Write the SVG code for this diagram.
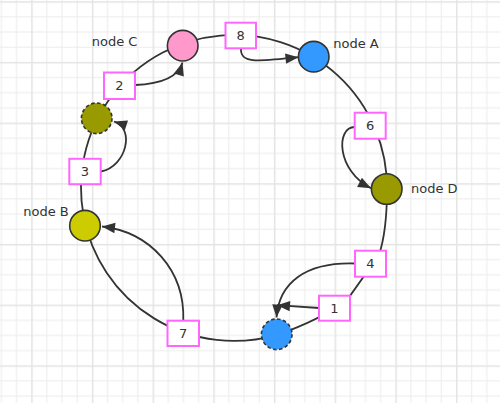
<svg xmlns="http://www.w3.org/2000/svg" width="500" height="403" viewBox="0 0 500 403">
<defs>
<pattern id="grid" patternUnits="userSpaceOnUse" x="31.2" y="1.2" width="60.68" height="60.68">
<rect x="0" y="0" width="60.68" height="60.68" fill="#ffffff"/>
<rect x="15.17" y="0" width="1" height="60.68" fill="#ececec"/>
<rect x="30.34" y="0" width="1" height="60.68" fill="#ececec"/>
<rect x="45.51" y="0" width="1" height="60.68" fill="#ececec"/>
<rect x="0" y="15.17" width="60.68" height="1" fill="#ececec"/>
<rect x="0" y="30.34" width="60.68" height="1" fill="#ececec"/>
<rect x="0" y="45.51" width="60.68" height="1" fill="#ececec"/>
<rect x="0" y="0" width="1.5" height="60.68" fill="#e4e4e4"/>
<rect x="0" y="0" width="60.68" height="1.5" fill="#e4e4e4"/>
</pattern>
<marker id="arr" markerUnits="userSpaceOnUse" markerWidth="15" markerHeight="12" viewBox="0 0 15 12" refX="14" refY="6" orient="auto">
<path d="M1,0.8 L14,6 L1,11.2 Z" fill="#333333"/>
</marker>
</defs>
<style>
.ring{fill:none;stroke:#333333;stroke-width:1.8}
.edge{fill:none;stroke:#333333;stroke-width:1.8;marker-end:url(#arr)}
.node{stroke:#333333;stroke-width:1.6}
.dash{stroke-dasharray:3.5,2.5}
.box{fill:#ffffff;stroke:#ff66ff;stroke-width:2}
.lbl{font-family:"DejaVu Sans",sans-serif;font-size:13px;fill:#333333}
.num{font-family:"DejaVu Sans",sans-serif;font-size:13px;fill:#333333;text-anchor:middle}
</style>
<rect x="0" y="0" width="500" height="403" fill="url(#grid)"/>

<g id="connectors">
<path class="ring" d="M276.9,334.8 A153,153 0 1,1 387,189.1"/>
<path class="ring" d="M387,189.1 C387,222 384,240 379,255 L347,300 Q320,320 277,335"/>
<path class="edge" d="M135,85 C160,84 178,78 182.5,62.5"/>
<path class="edge" d="M101,171.5 C127,166 135,128 114,121.5"/>
<path class="edge" d="M241,48.5 C240,63 255,62 298.5,57.2"/>
<path class="edge" d="M354.7,127 C336,127 336,170 371,188.3"/>
<path class="edge" d="M355,263.5 C305,262 279,283 276.5,317.5"/>
<path class="edge" d="M319,308 L277,305.2"/>
<path class="edge" d="M183.3,320.7 C185,270 150,232 102,226.5"/>
</g>

<g id="label-8"><rect class="box" x="225.5" y="22.7" width="30.5" height="25.6"/><text class="num" x="240.7" y="40">8</text></g>
<g id="label-2"><rect class="box" x="104" y="72.5" width="31" height="26.5"/><text class="num" x="119.5" y="90.2">2</text></g>
<g id="label-3"><rect class="box" x="69.3" y="158.8" width="31.4" height="25.4"/><text class="num" x="85" y="176">3</text></g>
<g id="label-6"><rect class="box" x="354.7" y="112.7" width="31" height="26"/><text class="num" x="370.2" y="130.2">6</text></g>
<g id="label-4"><rect class="box" x="355" y="250.7" width="31" height="26"/><text class="num" x="370.5" y="268.2">4</text></g>
<g id="label-1"><rect class="box" x="319" y="295.7" width="31" height="25"/><text class="num" x="334.5" y="312.7">1</text></g>
<g id="label-7"><rect class="box" x="167.5" y="320.7" width="31.5" height="25.3"/><text class="num" x="183.2" y="337.8">7</text></g>

<g id="node-C"><circle class="node" cx="182.7" cy="45.7" r="15.3" fill="#ff99cc"/><text class="lbl" x="91.7" y="45.7">node C</text></g>
<g id="node-A"><circle class="node" cx="313.7" cy="56.7" r="15.3" fill="#3399ff"/><text class="lbl" x="333.3" y="47.7">node A</text></g>
<g id="node-D"><circle class="node" cx="386.7" cy="189" r="15.3" fill="#999900"/><text class="lbl" x="411" y="192.7">node D</text></g>
<g id="node-B"><circle class="node" cx="85" cy="225.7" r="15.3" fill="#cccc00"/><text class="lbl" x="23.3" y="215.7">node B</text></g>
<g id="node-C2"><circle class="node dash" cx="96.7" cy="118.3" r="15.3" fill="#999900"/></g>
<g id="node-A2"><circle class="node dash" cx="276.7" cy="334.3" r="15.3" fill="#3399ff"/></g>
</svg>
